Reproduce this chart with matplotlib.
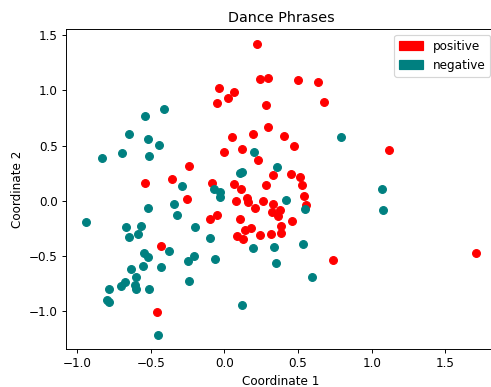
import matplotlib
matplotlib.use("Agg")
import matplotlib.pyplot as plt
from matplotlib.patches import Patch

pos_x = [0.218, 0.238, 0.297, 0.497, 0.633, -0.034, 0.066, 0.027, -0.048, 0.284,
         0.674, 0.299, 0.195, 0.054, 0.406, 0.474, 0.118, -0.004, 0.227, 1.120,
         -0.238, 0.329, 0.454, 0.515, -0.354, -0.542, -0.084, 0.066, 0.114, 0.279,
         0.527, 0.540, 0.553, -0.256, 0.080, 0.155, 0.157, 0.264, 0.327, 0.210,
         0.320, 0.380, 0.362, 0.458, -0.053, -0.096, 0.108, 0.383, 0.386, 0.317,
         0.238, 0.182, 0.142, 0.086, 0.123, -0.431, -0.456, 0.739, 1.712]
pos_y = [1.421, 1.100, 1.109, 1.094, 1.073, 1.018, 0.988, 0.931, 0.886, 0.870,
         0.900, 0.665, 0.610, 0.577, 0.592, 0.496, 0.474, 0.444, 0.369, 0.462,
         0.314, 0.230, 0.239, 0.213, 0.199, 0.163, 0.164, 0.151, 0.112, 0.147,
         0.143, 0.045, -0.037, 0.018, -0.002, 0.022, -0.012, 0.001, -0.027, -0.067,
         -0.101, -0.085, -0.134, -0.186, -0.132, -0.160, -0.160, -0.227, -0.293, -0.304,
         -0.305, -0.250, -0.266, -0.318, -0.343, -0.405, -1.006, -0.535, -0.474]

neg_x = [-0.408, -0.542, -0.650, -0.521, -0.444, -0.834, -0.694, -0.510, 0.200, 0.108,
         0.117, 0.357, 0.794, 1.073, 1.077, -0.291, -0.074, -0.030, -0.028, 0.418,
         0.544, -0.342, -0.521, -0.320, -0.943, -0.667, -0.567, -0.585, -0.648, -0.203,
         -0.097, -0.548, -0.519, -0.378, -0.249, -0.205, -0.065, -0.551, -0.431, -0.635,
         -0.603, -0.676, -0.705, -0.610, -0.603, -0.782, -0.514, -0.238, -0.800, -0.786,
         0.116, -0.453, 0.193, 0.338, 0.351, 0.535, 0.593]
neg_y = [0.831, 0.768, 0.605, 0.559, 0.505, 0.390, 0.432, 0.405, 0.444, 0.250,
         0.265, 0.307, 0.577, 0.103, -0.084, 0.136, 0.109, 0.082, 0.039, 0.009,
         -0.078, -0.027, -0.066, -0.127, -0.190, -0.233, -0.230, -0.297, -0.330, -0.239,
         -0.336, -0.471, -0.505, -0.450, -0.541, -0.500, -0.530, -0.592, -0.601, -0.614,
         -0.689, -0.731, -0.771, -0.759, -0.800, -0.798, -0.798, -0.722, -0.895, -0.916,
         -0.943, -1.215, -0.429, -0.419, -0.561, -0.390, -0.686]

labels = ["positive", "negative"]
colors = ["#ff0000", "#008080"]

DPI = 86
fig = plt.figure(figsize=(491 / DPI, 387 / DPI), dpi=DPI)
ax = fig.add_axes([66 / 491, 38 / 387, 430 / 491, 320 / 387])
ax.scatter(pos_x, pos_y, s=42, c=colors[0], zorder=2)
ax.scatter(neg_x, neg_y, s=42, c=colors[1], zorder=2)
ax.set_xlim(-1.077, 1.845)
ax.set_ylim(-1.342, 1.557)
ax.set_xticks([-1.0, -0.5, 0.0, 0.5, 1.0, 1.5])
ax.set_yticks([-1.0, -0.5, 0.0, 0.5, 1.0, 1.5])
ax.set_title("Dance Phrases", fontsize=12)
ax.set_xlabel("Coordinate 1")
ax.set_ylabel("Coordinate 2")
handles = [Patch(color=colors[0], label=labels[0]), Patch(color=colors[1], label=labels[1])]
ax.legend(handles=handles, loc="upper right")
fig.savefig("out.png", dpi=DPI)
